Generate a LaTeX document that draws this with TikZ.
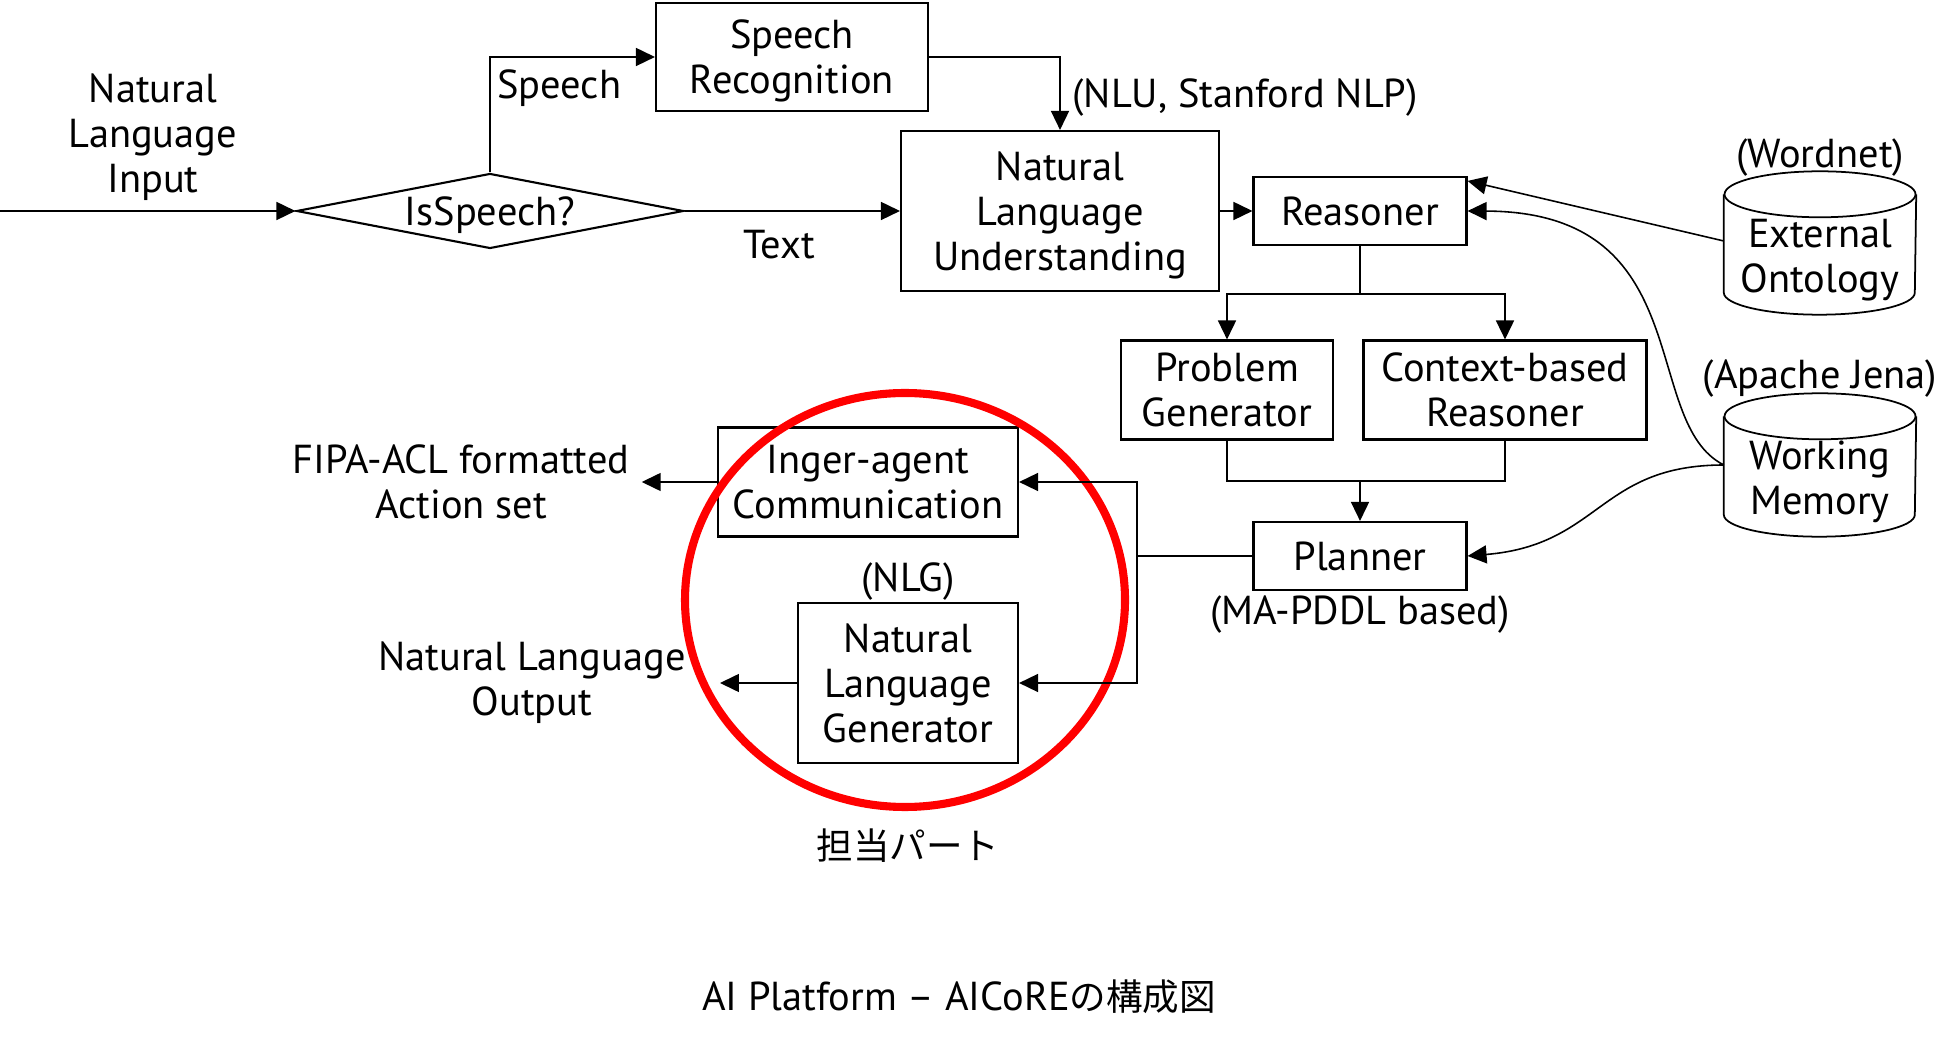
\documentclass[tikz,border=0pt]{standalone}
\usepackage{fontspec}
\setmainfont{PT Sans}
\newfontfamily\jpfont{Noto Sans CJK JP}
\usetikzlibrary{positioning,arrows.meta,shapes.geometric}
\definecolor{ringred}{HTML}{FF0000}

\begin{document}
\begin{tikzpicture}[x=0.1mm, y=-0.1mm,
    font=\fontsize{11.5}{12.8}\selectfont,
    box/.style={draw, line width=0.6pt, align=center, inner sep=0pt, text depth=0pt},
    drum/.style={minimum width=19.1mm, minimum height=14.2mm, inner sep=0pt},
    drumtext/.style={align=center, inner sep=0pt, yshift=-1.7mm},
    drumline/.style={line width=0.5pt},
    arr/.style={line width=0.45pt, -{Triangle[length=1.9mm, width=1.8mm]}},
    con/.style={line width=0.45pt}]
  \useasboundingbox (0,0) rectangle (1959,1045);
  % input side
  \node[align=center] (nli) at (153,137) {Natural\\Language\\Input};
  \coordinate (in) at (0,211);
  \node[box, diamond, aspect=5.2, minimum width=38.7mm, minimum height=7.5mm] (isp) at (490,211) {IsSpeech?};
  \node[box, minimum width=27.2mm, minimum height=10.8mm] (sr) at (792,57) {Speech\\Recognition};
  \node[box, minimum width=31.8mm, minimum height=16mm] (nlu) at (1060,211) {Natural\\Language\\Understanding};
  % reasoning part
  \node[box, minimum width=21.3mm, minimum height=6.8mm] (rsn) at (1360,211) {Reasoner};
  \node[box, minimum width=21.2mm, minimum height=9.9mm] (pg) at (1227,390) {Problem\\Generator};
  \node[box, minimum width=28.3mm, minimum height=9.9mm] (cbr) at (1505,390) {Context-based\\Reasoner};
  \node[box, minimum width=21.3mm, minimum height=6.8mm] (pln) at (1360,556) {Planner};
  \node[inner sep=0pt, below=0.4mm of pln] (pddl) {(MA-PDDL based)};
  \node[drum, label={[drumtext]center:External\\Ontology}] (eo) at (1820,243) {};
  \node[drum, label={[drumtext]center:Working\\Memory}] (wm) at (1820,465) {};
  \foreach \d in {eo,wm} {
    \draw[drumline] ([yshift=-2.3mm]\d.north west) -- ([yshift=2.2mm]\d.south west)
      arc[start angle=180, end angle=360, x radius=9.55mm, y radius=2.2mm]
      -- ([yshift=-2.3mm]\d.north east);
    \draw[drumline] ([yshift=-2.3mm]\d.north) ellipse [x radius=9.55mm, y radius=2.3mm];
  }
  \node[inner sep=0pt, above=-0.6mm of eo] (wnet) {(Wordnet)};
  \node[inner sep=0pt, above=-0.5mm of wm] (jena) {(Apache Jena)};
  % output side
  \node[box, minimum width=30mm, minimum height=10.9mm] (iac) at (868,482) {Inger-agent\\Communication};
  \node[box, minimum width=22mm, minimum height=16mm] (nlg) at (908,683) {Natural\\Language\\Generator};
  \node[inner sep=0pt, above=0.1mm of nlg] (nlgtag) {(NLG)};
  \node[align=center] (fipa) at (461,482) {FIPA-ACL formatted\\Action set};
  \node[align=center] (nlo) at (532,683) {Natural Language\\Output};
  \draw[ringred, line width=2.3pt] (905,600) ellipse [x radius=22mm, y radius=20.7mm];
  \node[font=\jpfont\fontsize{10.4}{12.8}\selectfont] (tantou) at (908,846) {担当パート};
  \node (title) at (959,997) {AI Platform – AICoRE{\jpfont\fontsize{10.4}{12.8}\selectfont の構成図}};
  % connectors
  \draw[arr] (in) -- (isp.west);
  \draw[arr] (isp.north) |- node[pos=0.71, below]{Speech} (sr.west);
  \draw[arr] (isp.east) -- node[pos=0.44, below, yshift=-0.7mm]{Text} (nlu.west);
  \draw[arr] (sr.east) -| node[pos=0.78, right]{(NLU, Stanford NLP)} (nlu.north);
  \draw[arr] (nlu.east) -- (rsn.west);
  \coordinate (split) at (1360,294);
  \draw[con] (rsn.south) -- (split);
  \draw[arr] (split) -| (pg.north);
  \draw[arr] (split) -| (cbr.north);
  \coordinate (join) at (1360,481);
  \draw[con] (pg.south) |- (join) -| (cbr.south);
  \draw[arr] (join) -- (pln.north);
  \coordinate (fork) at (1137,556);
  \draw[con] (pln.west) -- (fork);
  \draw[arr] (fork) |- (iac.east);
  \draw[arr] (fork) |- (nlg.east);
  \draw[arr] (iac.west) -- (fipa.east);
  \draw[arr] (nlg.west) -- ([xshift=2.2mm]nlo.east);
  \draw[arr] ([yshift=0.2mm]eo.west) -- ([yshift=-0.5mm]rsn.north east);
  \draw[arr] (wm.west) .. controls +(-85,-43) and +(233,1) .. (rsn.east);
  \draw[arr] (wm.west) .. controls +(-125,0) and +(133,-11) .. (pln.east);
\end{tikzpicture}
\end{document}
